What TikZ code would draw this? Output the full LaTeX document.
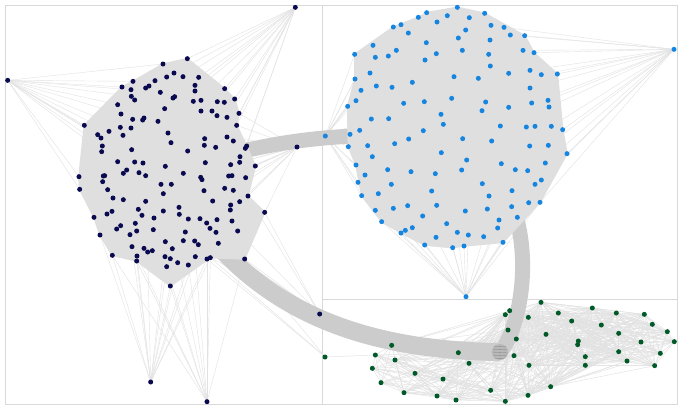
\documentclass[tikz,border=0pt]{standalone}
\usetikzlibrary{calc}
\definecolor{navy}{HTML}{0A0A50}
\definecolor{bdot}{HTML}{1585E0}
\definecolor{gdot}{HTML}{005A28}
\definecolor{fillg}{HTML}{DFDFDF}
\definecolor{edgeg}{HTML}{E2E2E2}
\definecolor{bandg}{HTML}{CCCCCC}
\definecolor{framec}{HTML}{D9D9D9}
\tikzset{
  framebox/.style={draw=framec, line width=0.8pt},
  fanedge/.style={draw=edgeg, line width=0.4pt},
  gedge/.style={draw=edgeg, line width=0.45pt},
  clusterfill/.style={fill=fillg, draw=fillg, line width=1.5pt, line join=round},
  band/.style={draw=bandg, line width=15pt},
  ndot/.style={circle, fill=navy, inner sep=0pt, minimum size=5pt},
  bdotst/.style={circle, fill=bdot, inner sep=0pt, minimum size=5pt},
  gdotst/.style={circle, fill=gdot, inner sep=0pt, minimum size=5pt},
}
\newcommand\myfan[2]{\foreach \q in {#2} \draw[fanedge] #1 -- \q;}
\begin{document}
\begin{tikzpicture}[x=1pt,y=-1pt]
\useasboundingbox (0,0) rectangle (680,408);
\fill[white] (0,0) rectangle (680,408);
% panels
\draw[framebox] (5,5) rectangle (322,404);
\draw[framebox] (322,5) rectangle (677,404);
\draw[framebox] (322,299) -- (677,299);

% ---------- fan edges left cluster (zoom coords x3)
\begin{scope}[scale=1/3]
\myfan{(23,241)}{(253,376),(353,314),(366,261),(399,244),(293,404),(237,530),(307,438),(327,394),(363,342),(489,192),(303,414),(305,455),(239,568),(394,289),(393,269),(361,382)}
\myfan{(886,22)}{(562,176),(596,232),(674,266),(704,297),(717,340),(710,376),(740,438),(585,256),(652,305),(681,352),(522,219),(549,230),(585,273),(603,301),(736,445),(681,411)}
\myfan{(891,441)}{(740,438),(736,445),(766,498),(720,470),(719,487),(744,588),(737,533),(710,376),(717,340),(794,637),(692,494),(700,571),(681,411),(696,527),(686,528),(719,605),(700,423)}
\myfan{(452,1146)}{(410,783),(411,768),(495,770),(511,858),(337,766),(533,788),(565,795),(586,770),(500,800),(396,740),(621,777),(631,773),(300,705),(443,756)}
\myfan{(621,1205)}{(511,858),(565,795),(586,770),(621,777),(631,773),(500,800),(410,783),(533,788),(337,766),(734,777),(411,768)}
\myfan{(959,942)}{(794,637),(734,777),(713,693),(631,773),(655,730),(744,588)}
\myfan{(975,1070)}{(734,777),(631,773),(621,777)}
\end{scope}

% ---------- fan edges blue cluster
\begin{scope}[shift={(320,0)},scale=1/3]
\myfan{(1062,148)}{(614,107),(642,158),(609,151),(712,222),(664,224),(630,211),(684,301),(687,321),(728,389),(741,461),(694,379),(685,436),(676,489),(664,540),(660,607),(552,82),(571,105),(630,264),(635,309)}
\myfan{(438,890)}{(243,699),(256,691),(277,683),(314,735),(348,712),(398,743),(432,738),(445,705),(491,710),(549,727),(185,665),(166,631),(412,697),(533,684),(592,652),(537,660),(380,671),(626,608),(660,607)}
\myfan{(16,408)}{(83,319),(90,403),(85,440),(108,302),(105,237),(119,391),(123,271),(104,163),(108,495),(114,547),(135,525),(143,437),(154,357),(125,587),(166,631),(150,219),(159,136)}
\end{scope}

% ---------- green mesh
\begin{scope}[shift={(320,290)},scale=1/3]
\def\GX{{663,569,556,625,715,817,889,973,755,844,997,564,678,896,1042,589,775,773,963,1063,215,415,582,896,1021,166,225,447,627,796,796,921,1004,157,285,369,183,692,512,252,351,408,556,624}}
\def\GY{{37,62,74,82,69,54,69,73,93,105,103,120,133,130,125,147,153,164,156,155,166,188,197,185,190,195,210,220,226,200,226,213,227,235,250,267,278,290,301,308,318,330,334,316}}
\foreach \i in {0,...,43}{
  \foreach \j in {0,...,43}{
    \ifnum\j>\i
      \pgfmathsetmacro\xa{\GX[\i]}
      \pgfmathsetmacro\ya{\GY[\i]}
      \pgfmathsetmacro\xb{\GX[\j]}
      \pgfmathsetmacro\yb{\GY[\j]}
      \pgfmathsetmacro\dd{veclen(\xa-\xb,\ya-\yb)}
      \ifdim\dd pt<380pt
        \draw[gedge] (\xa,\ya) -- (\xb,\yb);
      \fi
    \fi
  }
}
\draw[gedge] (15,201) -- (166,195);
\end{scope}

% ---------- bands
\draw[band] (165,175) .. controls (230,150) and (330,125) .. (455,140);
\draw[band, line width=18pt] (165,170) .. controls (230,290) and (330,350) .. (500,352);
\draw[band] (470,150) .. controls (545,200) and (525,325) .. (500,352);
\fill[black!28] (500,352) circle[radius=8];
\begin{scope}
\clip (500,352) circle[radius=8];
\foreach \k in {-6,-3,...,6} \draw[black!40, line width=0.6pt] (490,352+\k) -- (510,352+\k+1);
\end{scope}

% ---------- cluster fills
\begin{scope}[scale=1/3]
\filldraw[clusterfill] (562,176) -- (674,266) -- (704,297) -- (717,340) -- (710,376) -- (740,438) -- (766,498) -- (744,588) -- (794,637) -- (734,777) -- (631,773) -- (511,858) -- (410,783) -- (337,766) -- (300,705) -- (282,652) -- (239,568) -- (237,530) -- (253,376) -- (366,261) -- (399,244) -- (489,192) -- cycle;
\end{scope}
\begin{scope}[shift={(320,0)},scale=1/3]
\filldraw[clusterfill] (412,22) -- (494,40) -- (614,107) -- (642,158) -- (712,222) -- (728,389) -- (741,461) -- (660,607) -- (549,727) -- (432,738) -- (398,743) -- (314,735) -- (243,699) -- (185,665) -- (125,587) -- (108,495) -- (85,440) -- (83,319) -- (105,237) -- (104,163) -- (220,81) -- (295,52) -- (320,38) -- cycle;
\end{scope}

% ---------- dots left
\begin{scope}[scale=1/3]
\foreach[count=\i] \x/\y in {562/176,489/192,522/219,500/231,549/230,596/232,399/244,465/242,366/261,393/269,437/264,447/258,481/277,585/256,585/273,674/266,704/297,394/289,404/300,519/294,524/290,580/304,603/301,652/305,673/307,353/314,494/326,603/333,636/333,651/347,681/352,717/340,363/342,398/358,428/360,432/354,474/364,710/376,253/376,293/404,303/414,327/394,361/382,393/384,369/406,504/399,681/411,700/423,513/428,614/416,613/436,647/442,740/438,736/445,307/438,305/455,395/449,563/453,720/470,719/487,353/485,404/486,429/489,496/499,616/488,692/494,766/498,370/520,380/510,417/518,437/527,550/520,310/528,314/527,237/530,308/545,602/532,606/539,686/528,696/527,737/533,239/568,323/569,483/553,514/553,490/581,612/572,674/565,700/571,339/594,370/599,437/604,638/603,719/605,744/588,692/615,691/630,336/634,321/642,415/628,426/646,537/622,490/633,538/643,794/637,282/652,462/654,565/657,600/656,651/659,620/669,696/663,406/670,350/687,362/677,410/693,460/689,556/696,630/685,648/697,713/693,300/705,390/704,496/725,550/722,584/723,595/734,655/730,396/740,432/745,443/756,457/752,517/746,337/766,411/768,410/783,495/770,511/776,533/788,500/800,565/795,586/770,621/777,631/773,734/777,511/858,23/241,886/22,891/441,959/942,452/1146,621/1205}
  \node[ndot] (l\i) at (\x,\y) {};
\end{scope}

% ---------- dots blue
\begin{scope}[shift={(320,0)},scale=1/3]
\foreach[count=\i] \x/\y in {412/22,320/38,382/47,494/40,295/52,448/53,351/66,243/74,220/81,513/76,552/82,437/90,265/99,571/105,614/107,415/114,510/120,159/136,319/128,229/151,427/151,609/151,642/158,104/163,166/172,205/168,349/161,506/163,315/180,511/198,150/219,712/222,630/211,664/224,566/220,402/230,475/235,105/237,277/247,169/258,216/262,630/264,123/271,108/302,251/310,313/305,395/295,497/306,684/301,635/309,687/321,83/319,566/322,486/332,363/343,154/357,206/356,370/373,541/378,619/381,645/379,694/379,728/389,119/391,90/403,310/392,16/408,85/440,143/437,224/431,266/417,428/416,515/423,629/438,685/436,364/458,157/470,440/480,741/461,544/491,676/489,108/495,135/525,203/509,273/515,346/521,425/510,586/509,623/512,114/547,214/553,487/551,664/540,645/553,125/587,175/581,335/573,576/572,507/588,166/631,220/625,263/617,350/616,436/633,502/627,575/620,626/608,660/607,185/665,308/648,380/671,537/660,592/652,243/699,256/691,277/683,412/697,445/705,533/684,348/712,491/710,549/727,314/735,398/743,432/738,438/890,1062/148}
  \node[bdotst] (b\i) at (\x,\y) {};
\end{scope}

% ---------- dots green
\begin{scope}[shift={(320,290)},scale=1/3]
\foreach[count=\i] \x/\y in {663/37,569/62,556/74,625/82,715/69,817/54,889/69,973/73,755/93,844/105,997/103,564/120,678/133,896/130,1042/125,589/147,775/153,773/164,963/156,1063/155,215/166,415/188,582/197,896/185,1021/190,166/195,225/210,447/220,627/226,796/200,796/226,921/213,1004/227,157/235,285/250,369/267,183/278,692/290,512/301,252/308,351/318,408/330,556/334,624/316,15/201}
  \node[gdotst] (g\i) at (\x,\y) {};
\end{scope}
\end{tikzpicture}
\end{document}
